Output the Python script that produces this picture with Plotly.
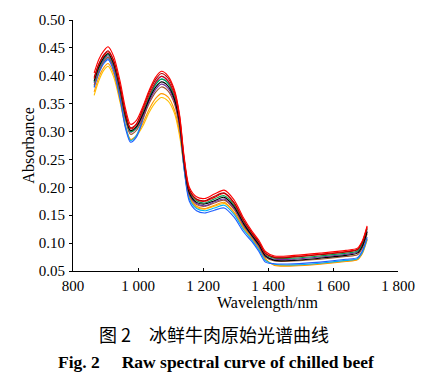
import plotly.graph_objects as go

wavelength = [865, 880, 895, 908, 925, 945, 962, 977, 995, 1015, 1035, 1055, 1072, 1092, 1112, 1128,
              1142, 1158, 1180, 1205, 1235, 1265, 1295, 1325, 1350, 1372, 1392, 1420, 1480, 1560, 1640, 1675, 1690, 1705]

s_red = [.405, .430, .445, .452, .435, .390, .340, .313, .320, .345, .375, .398, .408, .400, .375, .330,
         .255, .200, .183, .180, .188, .195, .178, .145, .122, .105, .085, .077, .078, .082, .087, .091, .104, .131]
s_darkred = [.397, .422, .438, .445, .428, .382, .333, .307, .314, .342, .372, .394, .404, .396, .372, .327,
             .251, .196, .179, .176, .184, .190, .173, .141, .119, .102, .082, .074, .075, .079, .084, .088, .101, .127]
s_red2 = [.395, .421, .436, .443, .426, .380, .331, .305, .312, .338, .367, .389, .399, .391, .367, .322,
          .250, .195, .178, .175, .182, .189, .172, .140, .118, .101, .081, .075, .076, .080, .085, .089, .102, .129]
s_black = [.391, .417, .433, .440, .422, .376, .327, .302, .309, .331, .359, .380, .389, .382, .358, .315,
           .244, .190, .173, .170, .176, .182, .166, .135, .114, .097, .077, .069, .069, .073, .078, .082, .094, .120]
s_green = [.389, .415, .431, .438, .420, .374, .325, .300, .307, .335, .363, .385, .394, .387, .362, .319,
           .247, .193, .176, .172, .179, .185, .169, .138, .116, .099, .079, .073, .073, .077, .082, .086, .098, .125]
s_purple = [.387, .413, .429, .436, .418, .372, .323, .299, .306, .328, .355, .376, .385, .378, .354, .311,
            .242, .188, .171, .167, .174, .179, .163, .133, .113, .095, .076, .071, .071, .075, .080, .084, .096, .122]
s_brown = [.383, .409, .426, .433, .415, .368, .320, .295, .302, .324, .351, .371, .380, .373, .350, .307,
           .240, .186, .169, .166, .172, .177, .161, .131, .112, .094, .075, .068, .068, .071, .076, .079, .091, .117]
s_blue = [.379, .405, .422, .429, .409, .358, .305, .281, .290, .321, .359, .389, .399, .391, .362, .311,
          .233, .175, .158, .154, .159, .163, .147, .120, .103, .085, .066, .063, .063, .066, .071, .074, .086, .111]
s_cyan = [.381, .407, .424, .431, .413, .362, .309, .284, .293, .324, .361, .385, .394, .387, .360, .311,
          .232, .179, .162, .158, .163, .168, .152, .124, .106, .088, .069, .062, .061, .064, .069, .072, .083, .108]
s_orange = [.371, .398, .415, .422, .404, .356, .309, .286, .293, .315, .341, .360, .368, .362, .339, .298,
            .236, .183, .166, .162, .168, .173, .156, .128, .109, .091, .072, .060, .059, .062, .067, .070, .081, .106]
s_yellow = [.365, .392, .410, .417, .398, .352, .307, .285, .292, .310, .335, .353, .361, .355, .333, .292,
            .235, .181, .164, .161, .166, .171, .155, .126, .108, .090, .071, .061, .060, .063, .068, .071, .082, .107]

series = [
    (s_yellow, "#ffc000"),
    (s_orange, "#ff9900"),
    (s_cyan, "#00b0f0"),
    (s_blue, "#1f5fff"),
    (s_brown, "#a0522d"),
    (s_purple, "#7030a0"),
    (s_green, "#00a050"),
    (s_black, "#000000"),
    (s_red2, "#e60000"),
    (s_darkred, "#b00000"),
    (s_red, "#ff0000"),
]

x_ticks = [800, 1000, 1200, 1400, 1600, 1800]
x_ticktext = ["800", "1 000", "1 200", "1 400", "1 600", "1 800"]
y_ticks = [0.05, 0.10, 0.15, 0.20, 0.25, 0.30, 0.35, 0.40, 0.45, 0.50]

fig = go.Figure()
for vals, col in series:
    fig.add_trace(go.Scatter(x=wavelength, y=vals, mode="lines",
                             line=dict(color=col, width=1.1, shape="spline", smoothing=0.8),
                             showlegend=False, hoverinfo="skip"))

serif = "Liberation Serif, Times New Roman, serif"
axis_common = dict(showline=True, linecolor="black", linewidth=1,
                   ticklen=3, tickcolor="black", showgrid=False, zeroline=False,
                   tickfont=dict(family=serif, size=15, color="black"))

fig.update_layout(
    width=428, height=380,
    margin=dict(l=73, r=30, t=16, b=109),
    paper_bgcolor="white", plot_bgcolor="white",
    xaxis=dict(range=[800, 1800], tickvals=x_ticks, ticktext=x_ticktext, ticks="inside",
               ticklabelstandoff=1, **axis_common),
    yaxis=dict(range=[0.05, 0.50], tickvals=y_ticks, tickformat=".2f", ticks="outside",
               ticklabelstandoff=1, **axis_common),
    annotations=[
        dict(text="Wavelength/nm", x=0.598, y=-0.1255, xref="paper", yref="paper",
             showarrow=False, xanchor="center", yanchor="middle",
             font=dict(family=serif, size=16, color="black")),
        dict(text="Absorbance", x=-0.138, y=0.5, xref="paper", yref="paper",
             showarrow=False, textangle=-90, xanchor="center", yanchor="middle",
             font=dict(family=serif, size=16, color="black")),
        dict(text="图 2　冰鲜牛肉原始光谱曲线", x=(214 - 73) / 325, y=(271 - 335) / 255,
             xref="paper", yref="paper", showarrow=False, xanchor="center", yanchor="middle",
             font=dict(family="Noto Sans CJK SC", size=18, color="black")),
        dict(text="<b>Fig. 2&nbsp;&nbsp;&nbsp;&nbsp;&nbsp;Raw spectral curve of chilled beef</b>",
             x=(215.5 - 73) / 325, y=(271 - 363) / 255,
             xref="paper", yref="paper", showarrow=False, xanchor="center", yanchor="middle",
             font=dict(family=serif, size=17.5, color="black")),
    ],
)

fig.write_html("out.html", post_script="document.body.style.margin='0px';",
               config={"displayModeBar": False})
